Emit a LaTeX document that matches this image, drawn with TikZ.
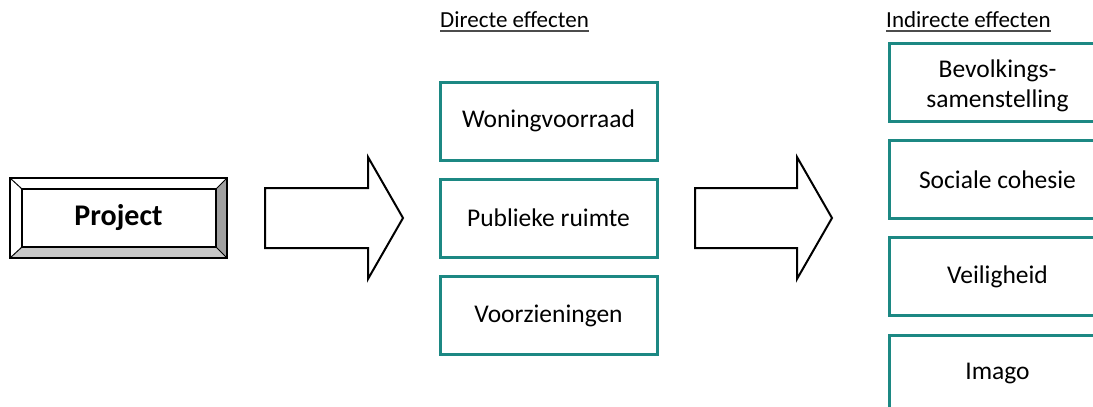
\documentclass[tikz,border=0pt]{standalone}
\usepackage{fontspec}
\setmainfont{Carlito}
\usetikzlibrary{calc}
\definecolor{teal}{RGB}{28,136,131}
\definecolor{bevdark}{RGB}{160,160,160}
\definecolor{bevlight}{RGB}{200,200,200}
\tikzset{
  effectbox/.style={draw=teal, line width=3pt, fill=white, minimum width=217, minimum height=78,
    inner sep=0pt, align=center, font=\fontsize{25.5}{30}\selectfont},
  heading/.style={inner sep=0pt, anchor=base west, font=\fontsize{23}{27}\selectfont},
  headline/.style={line width=1.1pt, draw=black!70},
  blockarrow/.style={draw=black, line width=2pt, fill=white, line join=miter},
  bevelline/.style={draw=black, line width=1pt},
}
\begin{document}
\begin{tikzpicture}[x=1pt,y=-1pt]
\useasboundingbox (0,0) rectangle (1093,407);
\clip (0,0) rectangle (1093,407);

% Column headings
\node[heading] (hdir) at (440,27) {Directe effecten};
\draw[headline] ($(hdir.base west)+(0,4)$) -- ($(hdir.base east)+(0,4)$);
\node[heading] (hind) at (886,27) {Indirecte effecten};
\draw[headline] ($(hind.base west)+(0,4)$) -- ($(hind.base east)+(0,4)$);

% Bevelled project button
\node[minimum width=217, minimum height=80, inner sep=0pt] (project) at (118.5,218) {};
\coordinate (o1) at (10,178);  \coordinate (o2) at (227,178);
\coordinate (o3) at (227,258); \coordinate (o4) at (10,258);
\coordinate (i1) at (22,189);  \coordinate (i2) at (216,189);
\coordinate (i3) at (216,247); \coordinate (i4) at (22,247);
\fill[white] (o1) -- (o2) -- (i2) -- (i1) -- cycle;
\fill[white] (o1) -- (i1) -- (i4) -- (o4) -- cycle;
\fill[bevdark] (o2) -- (o3) -- (i3) -- (i2) -- cycle;
\fill[bevlight] (o4) -- (o3) -- (i3) -- (i4) -- cycle;
\draw[bevelline] (o1) -- (i1) (o2) -- (i2) (o3) -- (i3) (o4) -- (i4);
\draw[bevelline, line width=1.4pt] (i1) rectangle (i3);
\draw[line width=2.2pt] (o1) rectangle (o3);
\node[font=\fontsize{30}{35}\selectfont\bfseries] (ptext) at (project.center) {Project};

% Block arrows between the columns
\draw[blockarrow] (265,188) -- (368,188) -- (368,157) -- (403,218) -- (368,279)
  -- (368,248) -- (265,248) -- cycle;
\draw[blockarrow] (695,188) -- (797,188) -- (797,157) -- (832,218) -- (797,279)
  -- (797,248) -- (695,248) -- cycle;

% Direct effects
\node[effectbox] (woning) at (548.5,121) {Woningvoorraad};
\node[effectbox] (publiek) at (548.5,218) {Publieke ruimte};
\node[effectbox] (voorz) at (548.5,315.5) {Voorzieningen};

% Indirect effects
\node[effectbox] (bevolk) at (997.5,82) {};
\node[font=\fontsize{25.5}{30}\selectfont, align=center, inner sep=0pt] (bevtext)
  at ($(bevolk.center)+(0,4)$) {Bevolkings-\\samenstelling};
\node[effectbox] (sociaal) at (997.5,179.5) {Sociale cohesie};
\node[effectbox] (veilig) at (997.5,276.5) {Veiligheid};
\node[effectbox] (imago) at (997.5,374) {Imago};
\end{tikzpicture}
\end{document}
